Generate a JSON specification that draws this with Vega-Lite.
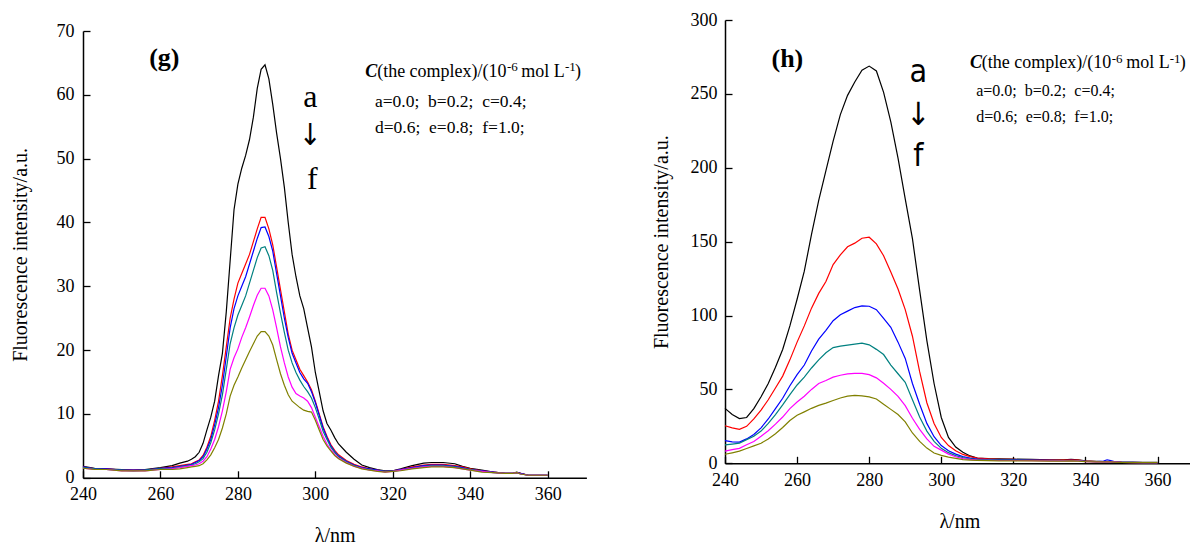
{
"$schema":"https://vega.github.io/schema/vega-lite/v6.json",
"background":"white",
"padding":{"left":10,"top":11,"right":0,"bottom":0},
"spacing":64,
"config":{"view":{"stroke":null},"font":"Liberation Serif",
"axis":{"grid":false,"domainColor":"black","domainWidth":1.5,"tickColor":"black","tickWidth":1.3,"labelColor":"black","labelFont":"Liberation Serif","labelFontSize":18,"titleFont":"Liberation Serif","titleFontSize":20,"titleFontWeight":"normal","titleColor":"black","labelFlush":false,"labelOverlap":false}},
"hconcat":[
{"vconcat":[
{"width":1,"height":10.7,"data":{"values":[]},"mark":{"type":"point","opacity":0},"encoding":{}},
{"width":503.4,"height":446.8,
"layer":[
{"data":{"values":[
{"s":"a","x":240,"y":1.8},{"s":"a","x":243,"y":1.5},{"s":"a","x":246,"y":1.4},{"s":"a","x":250,"y":1.3},{"s":"a","x":253,"y":1.2},{"s":"a","x":256,"y":1.3},{"s":"a","x":260,"y":1.6},{"s":"a","x":263,"y":1.9},{"s":"a","x":265,"y":2.3},{"s":"a","x":267,"y":2.6},
{"s":"a","x":268,"y":2.9},{"s":"a","x":269,"y":3.3},{"s":"a","x":270,"y":4.0},{"s":"a","x":271,"y":5.4},{"s":"a","x":272,"y":7.5},{"s":"a","x":273,"y":9.5},{"s":"a","x":274,"y":12},{"s":"a","x":275,"y":16},{"s":"a","x":276,"y":19.5},{"s":"a","x":277,"y":26},
{"s":"a","x":278,"y":34},{"s":"a","x":279,"y":42},{"s":"a","x":280,"y":46},{"s":"a","x":281,"y":48.5},{"s":"a","x":282,"y":50.5},{"s":"a","x":283,"y":53},{"s":"a","x":284,"y":56.5},{"s":"a","x":285,"y":61},{"s":"a","x":286,"y":64},{"s":"a","x":287,"y":64.7},
{"s":"a","x":288,"y":62.5},{"s":"a","x":289,"y":58.5},{"s":"a","x":290,"y":54},{"s":"a","x":291,"y":50},{"s":"a","x":292,"y":45.5},{"s":"a","x":293,"y":40},{"s":"a","x":294,"y":35},{"s":"a","x":295,"y":31.5},{"s":"a","x":296,"y":28.5},{"s":"a","x":297,"y":26.5},
{"s":"a","x":298,"y":23.5},{"s":"a","x":299,"y":20.5},{"s":"a","x":300,"y":16.5},{"s":"a","x":301,"y":13.5},{"s":"a","x":302,"y":10.5},{"s":"a","x":303,"y":8.5},{"s":"a","x":304,"y":7.5},{"s":"a","x":305,"y":6.3},{"s":"a","x":306,"y":5.3},
{"s":"a","x":308,"y":4.0},{"s":"a","x":310,"y":2.9},{"s":"a","x":312,"y":2.0},{"s":"a","x":314,"y":1.6},{"s":"a","x":316,"y":1.3},{"s":"a","x":318,"y":1.1},{"s":"a","x":320,"y":1.1},{"s":"a","x":322,"y":1.4},{"s":"a","x":325,"y":1.9},{"s":"a","x":328,"y":2.3},
{"s":"a","x":330,"y":2.4},{"s":"a","x":333,"y":2.4},{"s":"a","x":336,"y":2.2},{"s":"a","x":338,"y":1.8},{"s":"a","x":340,"y":1.5},{"s":"a","x":343,"y":1.2},{"s":"a","x":346,"y":0.9},{"s":"a","x":349,"y":0.7},{"s":"a","x":351,"y":0.7},{"s":"a","x":352,"y":0.9},
{"s":"a","x":353,"y":0.7},{"s":"a","x":355,"y":0.4},{"s":"a","x":357,"y":0.4},{"s":"a","x":360,"y":0.4},
{"s":"b","x":240,"y":1.7},{"s":"b","x":243,"y":1.4},{"s":"b","x":246,"y":1.4},{"s":"b","x":250,"y":1.2},{"s":"b","x":253,"y":1.2},{"s":"b","x":256,"y":1.2},{"s":"b","x":260,"y":1.5},{"s":"b","x":263,"y":1.7},{"s":"b","x":265,"y":1.9},{"s":"b","x":267,"y":2.1},
{"s":"b","x":268,"y":2.2},{"s":"b","x":269,"y":2.5},{"s":"b","x":270,"y":2.8},{"s":"b","x":271,"y":3.5},{"s":"b","x":272,"y":4.8},{"s":"b","x":273,"y":6.5},{"s":"b","x":274,"y":9},{"s":"b","x":275,"y":12},{"s":"b","x":276,"y":16},{"s":"b","x":277,"y":20.5},
{"s":"b","x":278,"y":25},{"s":"b","x":279,"y":28},{"s":"b","x":280,"y":30.5},{"s":"b","x":281,"y":32},{"s":"b","x":282,"y":33.5},{"s":"b","x":283,"y":35},{"s":"b","x":284,"y":37},{"s":"b","x":285,"y":39},{"s":"b","x":286,"y":40.8},{"s":"b","x":287,"y":40.8},
{"s":"b","x":288,"y":39},{"s":"b","x":289,"y":36.5},{"s":"b","x":290,"y":33},{"s":"b","x":291,"y":29.5},{"s":"b","x":292,"y":26},{"s":"b","x":293,"y":22.5},{"s":"b","x":294,"y":20},{"s":"b","x":295,"y":18.5},{"s":"b","x":296,"y":17},{"s":"b","x":297,"y":16},
{"s":"b","x":298,"y":15},{"s":"b","x":299,"y":13.8},{"s":"b","x":300,"y":12},{"s":"b","x":301,"y":10},{"s":"b","x":302,"y":8},{"s":"b","x":303,"y":6.5},{"s":"b","x":304,"y":5.2},{"s":"b","x":305,"y":4.3},{"s":"b","x":306,"y":3.6},
{"s":"b","x":308,"y":2.7},{"s":"b","x":310,"y":2.1},{"s":"b","x":312,"y":1.7},{"s":"b","x":314,"y":1.4},{"s":"b","x":316,"y":1.2},{"s":"b","x":318,"y":1.0},{"s":"b","x":320,"y":1.1},{"s":"b","x":322,"y":1.3},{"s":"b","x":325,"y":1.7},{"s":"b","x":328,"y":2.0},
{"s":"b","x":330,"y":2.1},{"s":"b","x":333,"y":2.1},{"s":"b","x":336,"y":1.9},{"s":"b","x":338,"y":1.7},{"s":"b","x":340,"y":1.4},{"s":"b","x":343,"y":1.1},{"s":"b","x":346,"y":0.9},{"s":"b","x":349,"y":0.7},{"s":"b","x":351,"y":0.7},{"s":"b","x":352,"y":0.8},
{"s":"b","x":353,"y":0.7},{"s":"b","x":355,"y":0.4},{"s":"b","x":357,"y":0.4},{"s":"b","x":360,"y":0.4},
{"s":"c","x":240,"y":1.7},{"s":"c","x":243,"y":1.4},{"s":"c","x":246,"y":1.4},{"s":"c","x":250,"y":1.2},{"s":"c","x":253,"y":1.2},{"s":"c","x":256,"y":1.2},{"s":"c","x":260,"y":1.5},{"s":"c","x":263,"y":1.6},{"s":"c","x":265,"y":1.8},{"s":"c","x":267,"y":2.0},
{"s":"c","x":268,"y":2.1},{"s":"c","x":269,"y":2.4},{"s":"c","x":270,"y":2.7},{"s":"c","x":271,"y":3.3},{"s":"c","x":272,"y":4.5},{"s":"c","x":273,"y":6},{"s":"c","x":274,"y":8.3},{"s":"c","x":275,"y":11},{"s":"c","x":276,"y":14.5},{"s":"c","x":277,"y":19},
{"s":"c","x":278,"y":23.5},{"s":"c","x":279,"y":26.5},{"s":"c","x":280,"y":28.5},{"s":"c","x":281,"y":30},{"s":"c","x":282,"y":31.5},{"s":"c","x":283,"y":33.5},{"s":"c","x":284,"y":35.5},{"s":"c","x":285,"y":37.5},{"s":"c","x":286,"y":39.2},{"s":"c","x":287,"y":39.3},
{"s":"c","x":288,"y":37.8},{"s":"c","x":289,"y":35.5},{"s":"c","x":290,"y":32},{"s":"c","x":291,"y":28.5},{"s":"c","x":292,"y":25},{"s":"c","x":293,"y":22},{"s":"c","x":294,"y":19.5},{"s":"c","x":295,"y":18},{"s":"c","x":296,"y":16.5},{"s":"c","x":297,"y":15.5},
{"s":"c","x":298,"y":14.8},{"s":"c","x":299,"y":13.5},{"s":"c","x":300,"y":11.8},{"s":"c","x":301,"y":9.8},{"s":"c","x":302,"y":7.8},{"s":"c","x":303,"y":6.3},{"s":"c","x":304,"y":5.0},{"s":"c","x":305,"y":4.1},{"s":"c","x":306,"y":3.4},
{"s":"c","x":308,"y":2.6},{"s":"c","x":310,"y":2.0},{"s":"c","x":312,"y":1.6},{"s":"c","x":314,"y":1.4},{"s":"c","x":316,"y":1.2},{"s":"c","x":318,"y":1.0},{"s":"c","x":320,"y":1.1},{"s":"c","x":322,"y":1.3},{"s":"c","x":325,"y":1.6},{"s":"c","x":328,"y":1.9},
{"s":"c","x":330,"y":2.0},{"s":"c","x":333,"y":2.0},{"s":"c","x":336,"y":1.8},{"s":"c","x":338,"y":1.6},{"s":"c","x":340,"y":1.3},{"s":"c","x":343,"y":1.1},{"s":"c","x":346,"y":0.9},{"s":"c","x":349,"y":0.7},{"s":"c","x":351,"y":0.7},{"s":"c","x":352,"y":0.8},
{"s":"c","x":353,"y":0.7},{"s":"c","x":355,"y":0.4},{"s":"c","x":357,"y":0.4},{"s":"c","x":360,"y":0.4},
{"s":"d","x":240,"y":1.6},{"s":"d","x":243,"y":1.4},{"s":"d","x":246,"y":1.3},{"s":"d","x":250,"y":1.2},{"s":"d","x":253,"y":1.1},{"s":"d","x":256,"y":1.2},{"s":"d","x":260,"y":1.4},{"s":"d","x":263,"y":1.5},{"s":"d","x":265,"y":1.7},{"s":"d","x":267,"y":1.9},
{"s":"d","x":268,"y":2.0},{"s":"d","x":269,"y":2.2},{"s":"d","x":270,"y":2.5},{"s":"d","x":271,"y":3.0},{"s":"d","x":272,"y":4.0},{"s":"d","x":273,"y":5.5},{"s":"d","x":274,"y":7.5},{"s":"d","x":275,"y":10},{"s":"d","x":276,"y":13},{"s":"d","x":277,"y":17},
{"s":"d","x":278,"y":21},{"s":"d","x":279,"y":23.5},{"s":"d","x":280,"y":25.5},{"s":"d","x":281,"y":27},{"s":"d","x":282,"y":28.5},{"s":"d","x":283,"y":30.5},{"s":"d","x":284,"y":32.5},{"s":"d","x":285,"y":34.5},{"s":"d","x":286,"y":36},{"s":"d","x":287,"y":36.2},
{"s":"d","x":288,"y":34.8},{"s":"d","x":289,"y":32.5},{"s":"d","x":290,"y":29},{"s":"d","x":291,"y":25.8},{"s":"d","x":292,"y":22.8},{"s":"d","x":293,"y":20},{"s":"d","x":294,"y":18},{"s":"d","x":295,"y":16.5},{"s":"d","x":296,"y":15.3},{"s":"d","x":297,"y":14.3},
{"s":"d","x":298,"y":13.5},{"s":"d","x":299,"y":12.5},{"s":"d","x":300,"y":11},{"s":"d","x":301,"y":9.2},{"s":"d","x":302,"y":7.3},{"s":"d","x":303,"y":6},{"s":"d","x":304,"y":4.8},{"s":"d","x":305,"y":4.0},{"s":"d","x":306,"y":3.3},
{"s":"d","x":308,"y":2.5},{"s":"d","x":310,"y":1.9},{"s":"d","x":312,"y":1.5},{"s":"d","x":314,"y":1.3},{"s":"d","x":316,"y":1.1},{"s":"d","x":318,"y":1.0},{"s":"d","x":320,"y":1.0},{"s":"d","x":322,"y":1.2},{"s":"d","x":325,"y":1.5},{"s":"d","x":328,"y":1.8},
{"s":"d","x":330,"y":1.9},{"s":"d","x":333,"y":1.9},{"s":"d","x":336,"y":1.7},{"s":"d","x":338,"y":1.5},{"s":"d","x":340,"y":1.3},{"s":"d","x":343,"y":1.0},{"s":"d","x":346,"y":0.8},{"s":"d","x":349,"y":0.7},{"s":"d","x":351,"y":0.7},{"s":"d","x":352,"y":0.8},
{"s":"d","x":353,"y":0.6},{"s":"d","x":355,"y":0.4},{"s":"d","x":357,"y":0.4},{"s":"d","x":360,"y":0.4},
{"s":"e","x":240,"y":1.5},{"s":"e","x":243,"y":1.3},{"s":"e","x":246,"y":1.3},{"s":"e","x":250,"y":1.1},{"s":"e","x":253,"y":1.1},{"s":"e","x":256,"y":1.1},{"s":"e","x":260,"y":1.3},{"s":"e","x":263,"y":1.4},{"s":"e","x":265,"y":1.6},{"s":"e","x":267,"y":1.8},
{"s":"e","x":268,"y":1.9},{"s":"e","x":269,"y":2.0},{"s":"e","x":270,"y":2.2},{"s":"e","x":271,"y":2.6},{"s":"e","x":272,"y":3.3},{"s":"e","x":273,"y":4.5},{"s":"e","x":274,"y":6},{"s":"e","x":275,"y":8},{"s":"e","x":276,"y":10.5},{"s":"e","x":277,"y":13.5},
{"s":"e","x":278,"y":17},{"s":"e","x":279,"y":18.8},{"s":"e","x":280,"y":20.2},{"s":"e","x":281,"y":22},{"s":"e","x":282,"y":23.5},{"s":"e","x":283,"y":25.2},{"s":"e","x":284,"y":27},{"s":"e","x":285,"y":28.6},{"s":"e","x":286,"y":29.7},{"s":"e","x":287,"y":29.7},
{"s":"e","x":288,"y":28.5},{"s":"e","x":289,"y":26.3},{"s":"e","x":290,"y":23.5},{"s":"e","x":291,"y":20.5},{"s":"e","x":292,"y":18},{"s":"e","x":293,"y":15.8},{"s":"e","x":294,"y":14.2},{"s":"e","x":295,"y":13.2},{"s":"e","x":296,"y":12.8},{"s":"e","x":297,"y":12.5},
{"s":"e","x":298,"y":12.0},{"s":"e","x":299,"y":11},{"s":"e","x":300,"y":9.5},{"s":"e","x":301,"y":8},{"s":"e","x":302,"y":6.5},{"s":"e","x":303,"y":5.3},{"s":"e","x":304,"y":4.4},{"s":"e","x":305,"y":3.7},{"s":"e","x":306,"y":3.1},
{"s":"e","x":308,"y":2.4},{"s":"e","x":310,"y":1.8},{"s":"e","x":312,"y":1.5},{"s":"e","x":314,"y":1.2},{"s":"e","x":316,"y":1.1},{"s":"e","x":318,"y":0.9},{"s":"e","x":320,"y":1.0},{"s":"e","x":322,"y":1.2},{"s":"e","x":325,"y":1.5},{"s":"e","x":328,"y":1.7},
{"s":"e","x":330,"y":1.8},{"s":"e","x":333,"y":1.8},{"s":"e","x":336,"y":1.6},{"s":"e","x":338,"y":1.4},{"s":"e","x":340,"y":1.2},{"s":"e","x":343,"y":1.0},{"s":"e","x":346,"y":0.8},{"s":"e","x":349,"y":0.7},{"s":"e","x":351,"y":0.7},{"s":"e","x":352,"y":0.8},
{"s":"e","x":353,"y":0.6},{"s":"e","x":355,"y":0.4},{"s":"e","x":357,"y":0.4},{"s":"e","x":360,"y":0.4},
{"s":"f","x":240,"y":1.5},{"s":"f","x":243,"y":1.3},{"s":"f","x":246,"y":1.3},{"s":"f","x":250,"y":1.1},{"s":"f","x":253,"y":1.1},{"s":"f","x":256,"y":1.1},{"s":"f","x":260,"y":1.3},{"s":"f","x":263,"y":1.3},{"s":"f","x":265,"y":1.4},{"s":"f","x":267,"y":1.6},
{"s":"f","x":268,"y":1.7},{"s":"f","x":269,"y":1.8},{"s":"f","x":270,"y":1.9},{"s":"f","x":271,"y":2.2},{"s":"f","x":272,"y":2.8},{"s":"f","x":273,"y":3.6},{"s":"f","x":274,"y":4.7},{"s":"f","x":275,"y":6.0},{"s":"f","x":276,"y":7.8},{"s":"f","x":277,"y":10},
{"s":"f","x":278,"y":12.8},{"s":"f","x":279,"y":14.5},{"s":"f","x":280,"y":15.8},{"s":"f","x":281,"y":17.2},{"s":"f","x":282,"y":18.5},{"s":"f","x":283,"y":19.8},{"s":"f","x":284,"y":21},{"s":"f","x":285,"y":22.2},{"s":"f","x":286,"y":22.9},{"s":"f","x":287,"y":22.9},
{"s":"f","x":288,"y":22.2},{"s":"f","x":289,"y":20.8},{"s":"f","x":290,"y":18.5},{"s":"f","x":291,"y":16.3},{"s":"f","x":292,"y":14.5},{"s":"f","x":293,"y":13},{"s":"f","x":294,"y":12},{"s":"f","x":295,"y":11.5},{"s":"f","x":296,"y":11},{"s":"f","x":297,"y":10.6},
{"s":"f","x":298,"y":10.4},{"s":"f","x":299,"y":10.3},{"s":"f","x":300,"y":9.0},{"s":"f","x":301,"y":7.5},{"s":"f","x":302,"y":6.0},{"s":"f","x":303,"y":5.0},{"s":"f","x":304,"y":4.2},{"s":"f","x":305,"y":3.5},{"s":"f","x":306,"y":3.0},
{"s":"f","x":308,"y":2.3},{"s":"f","x":310,"y":1.8},{"s":"f","x":312,"y":1.4},{"s":"f","x":314,"y":1.2},{"s":"f","x":316,"y":1.0},{"s":"f","x":318,"y":0.9},{"s":"f","x":320,"y":1.0},{"s":"f","x":322,"y":1.1},{"s":"f","x":325,"y":1.4},{"s":"f","x":328,"y":1.6},
{"s":"f","x":330,"y":1.7},{"s":"f","x":333,"y":1.7},{"s":"f","x":336,"y":1.6},{"s":"f","x":338,"y":1.4},{"s":"f","x":340,"y":1.2},{"s":"f","x":343,"y":0.9},{"s":"f","x":346,"y":0.8},{"s":"f","x":349,"y":0.7},{"s":"f","x":351,"y":0.7},{"s":"f","x":352,"y":0.8},
{"s":"f","x":353,"y":0.6},{"s":"f","x":355,"y":0.4},{"s":"f","x":357,"y":0.4},{"s":"f","x":360,"y":0.4}
]},
"mark":{"type":"line","strokeWidth":1.2},
"encoding":{
"x":{"field":"x","type":"quantitative","scale":{"domain":[240,370],"nice":false,"zero":false},
"axis":{"title":"λ/nm","values":[240,250,260,270,280,290,300,310,320,330,340,350,360,370],"labelExpr":"datum.value % 20 === 0 && datum.value <= 360 ? datum.label : ''","tickSize":{"condition":{"test":"datum.value % 20 === 0","value":-7},"value":-4},"labelPadding":15,"titlePadding":22}},
"y":{"field":"y","type":"quantitative","scale":{"domain":[0,70],"nice":false},
"axis":{"title":"Fluorescence intensity/a.u.","values":[0,5,10,15,20,25,30,35,40,45,50,55,60,65,70],"labelExpr":"datum.value % 10 === 0 ? datum.label : ''","tickSize":{"condition":{"test":"datum.value % 10 === 0","value":-7},"value":-4},"labelPadding":16,"titlePadding":25.5}},
"color":{"field":"s","type":"nominal","scale":{"domain":["a","b","c","d","e","f"],"range":["#000000","#ff0000","#0000ff","#008080","#ff00ff","#808000"]},"legend":null}}},
{"data":{"values":[{"x":261.0,"y":65.8,"t":"(g)"}]},"mark":{"type":"text","font":"Liberation Serif","fontSize":26,"fontWeight":"bold","align":"center","baseline":"middle","color":"black"},
"encoding":{"x":{"field":"x","type":"quantitative"},"y":{"field":"y","type":"quantitative"},"text":{"field":"t"}}},
{"data":{"values":[{"x":298.7,"y":58.1,"t":"a"},{"x":299.2,"y":45.3,"t":"f"}]},"mark":{"type":"text","font":"Liberation Serif","fontSize":32,"align":"center","baseline":"alphabetic","color":"black"},
"encoding":{"x":{"field":"x","type":"quantitative"},"y":{"field":"y","type":"quantitative"},"text":{"field":"t"}}},
{"data":{"values":[{"x":298.7,"y":52.1,"t":"↓"}]},"mark":{"type":"text","font":"DejaVu Sans Condensed, DejaVu Sans","fontSize":30,"align":"center","baseline":"alphabetic","color":"black"},
"encoding":{"x":{"field":"x","type":"quantitative"},"y":{"field":"y","type":"quantitative"},"text":{"field":"t"}}},
{"data":{"values":[{"x":312.86,"y":62.8,"t":"C"}]},"mark":{"type":"text","font":"Liberation Serif","fontSize":18,"fontWeight":"bold","fontStyle":"italic","align":"left","baseline":"alphabetic","color":"black"},
"encoding":{"x":{"field":"x","type":"quantitative"},"y":{"field":"y","type":"quantitative"},"text":{"field":"t"}}},
{"data":{"values":[{"x":315.96,"y":62.8,"t":"(the complex)/(10"},{"x":353.2,"y":62.8,"t":"mol L"},{"x":367.04,"y":62.8,"t":")"}]},"mark":{"type":"text","font":"Liberation Serif","fontSize":18,"align":"left","baseline":"alphabetic","color":"black"},
"encoding":{"x":{"field":"x","type":"quantitative"},"y":{"field":"y","type":"quantitative"},"text":{"field":"t"}}},
{"data":{"values":[{"x":349.5,"y":63.7,"t":"-6"},{"x":364.45,"y":63.7,"t":"-1"}]},"mark":{"type":"text","font":"Liberation Serif","fontSize":13,"align":"left","baseline":"alphabetic","color":"black"},
"encoding":{"x":{"field":"x","type":"quantitative"},"y":{"field":"y","type":"quantitative"},"text":{"field":"t"}}},
{"data":{"values":[{"x":315.4,"y":58.1,"t":"a=0.0;\u00a0 b=0.2;\u00a0 c=0.4;"},{"x":315.4,"y":54.0,"t":"d=0.6;\u00a0 e=0.8;\u00a0 f=1.0;"}]},"mark":{"type":"text","font":"Liberation Serif","fontSize":17.5,"align":"left","baseline":"alphabetic","color":"black"},
"encoding":{"x":{"field":"x","type":"quantitative"},"y":{"field":"y","type":"quantitative"},"text":{"field":"t"}}}
]}
],"spacing":0,"bounds":"flush"},
{"width":468.6,"height":443.3,
"layer":[
{"data":{"values":[
{"s":"a","x":240,"y":37.2},{"s":"a","x":242,"y":33},{"s":"a","x":244,"y":30.3},{"s":"a","x":246,"y":31},{"s":"a","x":248,"y":37},{"s":"a","x":250,"y":45},{"s":"a","x":252,"y":54},{"s":"a","x":254,"y":65},{"s":"a","x":256,"y":77},{"s":"a","x":258,"y":93},
{"s":"a","x":260,"y":111},{"s":"a","x":262,"y":130},{"s":"a","x":264,"y":155},{"s":"a","x":266,"y":178},{"s":"a","x":268,"y":198},{"s":"a","x":270,"y":218},{"s":"a","x":272,"y":236},{"s":"a","x":274,"y":249},{"s":"a","x":276,"y":258},{"s":"a","x":278,"y":266},
{"s":"a","x":280,"y":268.8},{"s":"a","x":282,"y":265.5},{"s":"a","x":284,"y":251},{"s":"a","x":286,"y":231},{"s":"a","x":288,"y":206.5},{"s":"a","x":290,"y":179},{"s":"a","x":292,"y":152},{"s":"a","x":294,"y":117},{"s":"a","x":296,"y":83},{"s":"a","x":298,"y":54},
{"s":"a","x":300,"y":31},{"s":"a","x":302,"y":17.5},{"s":"a","x":304,"y":11},{"s":"a","x":306,"y":7.5},{"s":"a","x":308,"y":5},{"s":"a","x":310,"y":3.6},{"s":"a","x":313,"y":3.2},{"s":"a","x":316,"y":3.0},{"s":"a","x":320,"y":2.8},{"s":"a","x":325,"y":2.6},
{"s":"a","x":330,"y":2.4},{"s":"a","x":334,"y":2.3},{"s":"a","x":336,"y":2.6},{"s":"a","x":338,"y":2.3},{"s":"a","x":340,"y":1.6},{"s":"a","x":343,"y":1.3},{"s":"a","x":345,"y":1.2},{"s":"a","x":346,"y":1.3},{"s":"a","x":347,"y":1.2},{"s":"a","x":348,"y":1.0},
{"s":"a","x":350,"y":0.8},{"s":"a","x":353,"y":0.7},{"s":"a","x":356,"y":0.6},{"s":"a","x":360,"y":0.6},
{"s":"b","x":240,"y":25.4},{"s":"b","x":242,"y":24},{"s":"b","x":244,"y":23},{"s":"b","x":246,"y":25},{"s":"b","x":248,"y":30},{"s":"b","x":250,"y":36},{"s":"b","x":252,"y":43},{"s":"b","x":254,"y":51},{"s":"b","x":256,"y":59},{"s":"b","x":258,"y":70},
{"s":"b","x":260,"y":82},{"s":"b","x":262,"y":93},{"s":"b","x":264,"y":105},{"s":"b","x":266,"y":115},{"s":"b","x":268,"y":123},{"s":"b","x":270,"y":134.5},{"s":"b","x":272,"y":141},{"s":"b","x":274,"y":146.5},{"s":"b","x":276,"y":149},{"s":"b","x":278,"y":152.3},
{"s":"b","x":280,"y":153},{"s":"b","x":282,"y":148.5},{"s":"b","x":284,"y":140.5},{"s":"b","x":286,"y":129.5},{"s":"b","x":288,"y":118},{"s":"b","x":290,"y":104},{"s":"b","x":292,"y":86},{"s":"b","x":294,"y":62},{"s":"b","x":296,"y":41},{"s":"b","x":298,"y":27},
{"s":"b","x":300,"y":17.5},{"s":"b","x":302,"y":12},{"s":"b","x":304,"y":8.5},{"s":"b","x":306,"y":6},{"s":"b","x":308,"y":4.5},{"s":"b","x":310,"y":3.5},{"s":"b","x":313,"y":3.0},{"s":"b","x":316,"y":2.7},{"s":"b","x":320,"y":2.6},{"s":"b","x":325,"y":2.4},
{"s":"b","x":330,"y":2.2},{"s":"b","x":334,"y":2.1},{"s":"b","x":336,"y":2.3},{"s":"b","x":338,"y":2.1},{"s":"b","x":340,"y":1.5},{"s":"b","x":343,"y":1.2},{"s":"b","x":345,"y":1.1},{"s":"b","x":346,"y":1.2},{"s":"b","x":347,"y":1.1},{"s":"b","x":348,"y":1.0},
{"s":"b","x":350,"y":0.7},{"s":"b","x":353,"y":0.6},{"s":"b","x":356,"y":0.5},{"s":"b","x":360,"y":0.5},
{"s":"c","x":240,"y":15.3},{"s":"c","x":242,"y":14.5},{"s":"c","x":244,"y":14.3},{"s":"c","x":246,"y":16.5},{"s":"c","x":248,"y":19.5},{"s":"c","x":250,"y":24},{"s":"c","x":252,"y":30},{"s":"c","x":254,"y":37},{"s":"c","x":256,"y":44},{"s":"c","x":258,"y":52.5},
{"s":"c","x":260,"y":60},{"s":"c","x":262,"y":66.5},{"s":"c","x":264,"y":76},{"s":"c","x":266,"y":84},{"s":"c","x":268,"y":90},{"s":"c","x":270,"y":96.5},{"s":"c","x":272,"y":100.5},{"s":"c","x":274,"y":103},{"s":"c","x":276,"y":105.4},{"s":"c","x":278,"y":106.5},
{"s":"c","x":280,"y":106.3},{"s":"c","x":282,"y":104},{"s":"c","x":284,"y":98},{"s":"c","x":286,"y":92},{"s":"c","x":288,"y":82},{"s":"c","x":290,"y":71},{"s":"c","x":292,"y":54},{"s":"c","x":294,"y":40},{"s":"c","x":296,"y":27},{"s":"c","x":298,"y":18},
{"s":"c","x":300,"y":12},{"s":"c","x":302,"y":8.5},{"s":"c","x":304,"y":6.2},{"s":"c","x":306,"y":4.5},{"s":"c","x":308,"y":3.5},{"s":"c","x":310,"y":2.8},{"s":"c","x":313,"y":2.5},{"s":"c","x":316,"y":2.4},{"s":"c","x":320,"y":2.3},{"s":"c","x":325,"y":2.2},
{"s":"c","x":330,"y":2.0},{"s":"c","x":334,"y":1.9},{"s":"c","x":336,"y":2.0},{"s":"c","x":338,"y":1.9},{"s":"c","x":340,"y":1.4},{"s":"c","x":343,"y":1.2},{"s":"c","x":345,"y":1.5},{"s":"c","x":346,"y":2.4},{"s":"c","x":347,"y":1.8},{"s":"c","x":348,"y":1.1},
{"s":"c","x":350,"y":0.7},{"s":"c","x":353,"y":0.6},{"s":"c","x":356,"y":0.5},{"s":"c","x":360,"y":0.5},
{"s":"d","x":240,"y":12.5},{"s":"d","x":242,"y":13},{"s":"d","x":244,"y":13.6},{"s":"d","x":246,"y":16},{"s":"d","x":248,"y":18.3},{"s":"d","x":250,"y":21.8},{"s":"d","x":252,"y":27},{"s":"d","x":254,"y":33},{"s":"d","x":256,"y":39.5},{"s":"d","x":258,"y":46.5},
{"s":"d","x":260,"y":53},{"s":"d","x":262,"y":58.3},{"s":"d","x":264,"y":64.5},{"s":"d","x":266,"y":70},{"s":"d","x":268,"y":74.8},{"s":"d","x":270,"y":78.3},{"s":"d","x":272,"y":79.3},{"s":"d","x":274,"y":80},{"s":"d","x":276,"y":80.7},{"s":"d","x":278,"y":81.3},
{"s":"d","x":280,"y":80.2},{"s":"d","x":282,"y":77.1},{"s":"d","x":284,"y":73.6},{"s":"d","x":286,"y":66.5},{"s":"d","x":288,"y":60.6},{"s":"d","x":290,"y":54.8},{"s":"d","x":292,"y":43},{"s":"d","x":294,"y":31.3},{"s":"d","x":296,"y":21.8},{"s":"d","x":298,"y":14.8},
{"s":"d","x":300,"y":10.1},{"s":"d","x":302,"y":7.2},{"s":"d","x":304,"y":5.2},{"s":"d","x":306,"y":3.8},{"s":"d","x":308,"y":3.0},{"s":"d","x":310,"y":2.5},{"s":"d","x":313,"y":2.3},{"s":"d","x":316,"y":2.2},{"s":"d","x":320,"y":2.1},{"s":"d","x":325,"y":2.0},
{"s":"d","x":330,"y":1.9},{"s":"d","x":334,"y":1.8},{"s":"d","x":336,"y":1.9},{"s":"d","x":338,"y":1.8},{"s":"d","x":340,"y":1.3},{"s":"d","x":343,"y":1.1},{"s":"d","x":345,"y":1.1},{"s":"d","x":346,"y":1.2},{"s":"d","x":347,"y":1.1},{"s":"d","x":348,"y":1.0},
{"s":"d","x":350,"y":0.7},{"s":"d","x":353,"y":0.6},{"s":"d","x":356,"y":0.5},{"s":"d","x":360,"y":0.5},
{"s":"e","x":240,"y":8.2},{"s":"e","x":242,"y":9.2},{"s":"e","x":244,"y":10.1},{"s":"e","x":246,"y":12.5},{"s":"e","x":248,"y":14.8},{"s":"e","x":250,"y":18.3},{"s":"e","x":252,"y":22},{"s":"e","x":254,"y":26.5},{"s":"e","x":256,"y":31.3},{"s":"e","x":258,"y":37},
{"s":"e","x":260,"y":41.5},{"s":"e","x":262,"y":45.4},{"s":"e","x":264,"y":50},{"s":"e","x":266,"y":54},{"s":"e","x":268,"y":56},{"s":"e","x":270,"y":58.3},{"s":"e","x":272,"y":59.6},{"s":"e","x":274,"y":60.5},{"s":"e","x":276,"y":60.9},{"s":"e","x":278,"y":60.8},
{"s":"e","x":280,"y":60},{"s":"e","x":282,"y":57.8},{"s":"e","x":284,"y":54.2},{"s":"e","x":286,"y":50},{"s":"e","x":288,"y":45.3},{"s":"e","x":290,"y":39},{"s":"e","x":292,"y":30.5},{"s":"e","x":294,"y":23},{"s":"e","x":296,"y":16.5},{"s":"e","x":298,"y":11.5},
{"s":"e","x":300,"y":8.9},{"s":"e","x":302,"y":6.2},{"s":"e","x":304,"y":4.4},{"s":"e","x":306,"y":3.2},{"s":"e","x":308,"y":2.6},{"s":"e","x":310,"y":2.2},{"s":"e","x":313,"y":2.0},{"s":"e","x":316,"y":1.9},{"s":"e","x":320,"y":1.9},{"s":"e","x":325,"y":1.8},
{"s":"e","x":330,"y":1.7},{"s":"e","x":334,"y":1.6},{"s":"e","x":336,"y":1.7},{"s":"e","x":338,"y":1.6},{"s":"e","x":340,"y":1.2},{"s":"e","x":343,"y":1.0},{"s":"e","x":345,"y":1.0},{"s":"e","x":346,"y":1.1},{"s":"e","x":347,"y":1.0},{"s":"e","x":348,"y":0.9},
{"s":"e","x":350,"y":0.6},{"s":"e","x":353,"y":0.5},{"s":"e","x":356,"y":0.5},{"s":"e","x":360,"y":0.5},
{"s":"f","x":240,"y":6.1},{"s":"f","x":242,"y":7.1},{"s":"f","x":244,"y":8.2},{"s":"f","x":246,"y":10},{"s":"f","x":248,"y":11.8},{"s":"f","x":250,"y":13.6},{"s":"f","x":252,"y":16.5},{"s":"f","x":254,"y":20},{"s":"f","x":256,"y":24.2},{"s":"f","x":258,"y":29},
{"s":"f","x":260,"y":32.5},{"s":"f","x":262,"y":34.8},{"s":"f","x":264,"y":37.2},{"s":"f","x":266,"y":39.2},{"s":"f","x":268,"y":40.7},{"s":"f","x":270,"y":42.5},{"s":"f","x":272,"y":44.2},{"s":"f","x":274,"y":45.4},{"s":"f","x":276,"y":45.9},{"s":"f","x":278,"y":45.6},
{"s":"f","x":280,"y":45},{"s":"f","x":282,"y":43.5},{"s":"f","x":284,"y":40},{"s":"f","x":286,"y":36.5},{"s":"f","x":288,"y":33},{"s":"f","x":290,"y":28},{"s":"f","x":292,"y":20.5},{"s":"f","x":294,"y":14.8},{"s":"f","x":296,"y":10.3},{"s":"f","x":298,"y":7},
{"s":"f","x":300,"y":5.4},{"s":"f","x":302,"y":4.2},{"s":"f","x":304,"y":3.3},{"s":"f","x":306,"y":2.5},{"s":"f","x":308,"y":2.2},{"s":"f","x":310,"y":2.0},{"s":"f","x":313,"y":1.8},{"s":"f","x":316,"y":1.7},{"s":"f","x":320,"y":1.7},{"s":"f","x":325,"y":1.6},
{"s":"f","x":330,"y":1.5},{"s":"f","x":334,"y":1.5},{"s":"f","x":336,"y":1.6},{"s":"f","x":338,"y":1.5},{"s":"f","x":340,"y":1.1},{"s":"f","x":343,"y":0.9},{"s":"f","x":345,"y":0.9},{"s":"f","x":346,"y":1.0},{"s":"f","x":347,"y":0.9},{"s":"f","x":348,"y":0.8},
{"s":"f","x":350,"y":0.6},{"s":"f","x":353,"y":0.5},{"s":"f","x":356,"y":0.5},{"s":"f","x":360,"y":0.5}
]},
"mark":{"type":"line","strokeWidth":1.2},
"encoding":{
"x":{"field":"x","type":"quantitative","scale":{"domain":[240,370],"nice":false,"zero":false},
"axis":{"title":"λ/nm","values":[240,250,260,270,280,290,300,310,320,330,340,350,360,370],"labelExpr":"datum.value % 20 === 0 && datum.value <= 360 ? datum.label : ''","tickSize":{"condition":{"test":"datum.value % 20 === 0","value":-7},"value":-4},"labelPadding":15,"titlePadding":22}},
"y":{"field":"y","type":"quantitative","scale":{"domain":[0,300],"nice":false},
"axis":{"title":"Fluorescence intensity/a.u.","values":[0,25,50,75,100,125,150,175,200,225,250,275,300],"labelExpr":"datum.value % 50 === 0 ? datum.label : ''","tickSize":{"condition":{"test":"datum.value % 50 === 0","value":-7},"value":-4},"labelPadding":15,"titlePadding":19}},
"color":{"field":"s","type":"nominal","scale":{"domain":["a","b","c","d","e","f"],"range":["#000000","#ff0000","#0000ff","#008080","#ff00ff","#808000"]},"legend":null}}},
{"data":{"values":[{"x":257.3,"y":273.6,"t":"(h)"}]},"mark":{"type":"text","font":"Liberation Serif","fontSize":26,"fontWeight":"bold","align":"center","baseline":"middle","color":"black"},
"encoding":{"x":{"field":"x","type":"quantitative"},"y":{"field":"y","type":"quantitative"},"text":{"field":"t"}}},
{"data":{"values":[{"x":293.6,"y":258.3,"t":"a"},{"x":293.6,"y":228.9,"t":"↓"},{"x":293.6,"y":201.2,"t":"f"}]},"mark":{"type":"text","font":"Liberation Sans Narrow, DejaVu Sans Condensed, Liberation Sans","fontSize":32,"align":"center","baseline":"alphabetic","color":"black"},
"encoding":{"x":{"field":"x","type":"quantitative"},"y":{"field":"y","type":"quantitative"},"text":{"field":"t"}}},
{"data":{"values":[{"x":307.94,"y":267.6,"t":"C"}]},"mark":{"type":"text","font":"Liberation Serif","fontSize":18,"fontWeight":"bold","fontStyle":"italic","align":"left","baseline":"alphabetic","color":"black"},
"encoding":{"x":{"field":"x","type":"quantitative"},"y":{"field":"y","type":"quantitative"},"text":{"field":"t"}}},
{"data":{"values":[{"x":311.26,"y":267.6,"t":"(the complex)/(10"},{"x":351.29,"y":267.6,"t":"mol L"},{"x":366.13,"y":267.6,"t":")"}]},"mark":{"type":"text","font":"Liberation Serif","fontSize":18,"align":"left","baseline":"alphabetic","color":"black"},
"encoding":{"x":{"field":"x","type":"quantitative"},"y":{"field":"y","type":"quantitative"},"text":{"field":"t"}}},
{"data":{"values":[{"x":347.27,"y":271.0,"t":"-6"},{"x":363.36,"y":271.0,"t":"-1"}]},"mark":{"type":"text","font":"Liberation Serif","fontSize":13,"align":"left","baseline":"alphabetic","color":"black"},
"encoding":{"x":{"field":"x","type":"quantitative"},"y":{"field":"y","type":"quantitative"},"text":{"field":"t"}}},
{"data":{"values":[{"x":309.7,"y":248.8,"t":"a=0.0;\u00a0 b=0.2;\u00a0 c=0.4;"},{"x":309.7,"y":231.2,"t":"d=0.6;\u00a0 e=0.8;\u00a0 f=1.0;"}]},"mark":{"type":"text","font":"Liberation Serif","fontSize":16,"align":"left","baseline":"alphabetic","color":"black"},
"encoding":{"x":{"field":"x","type":"quantitative"},"y":{"field":"y","type":"quantitative"},"text":{"field":"t"}}}
]}
]}
